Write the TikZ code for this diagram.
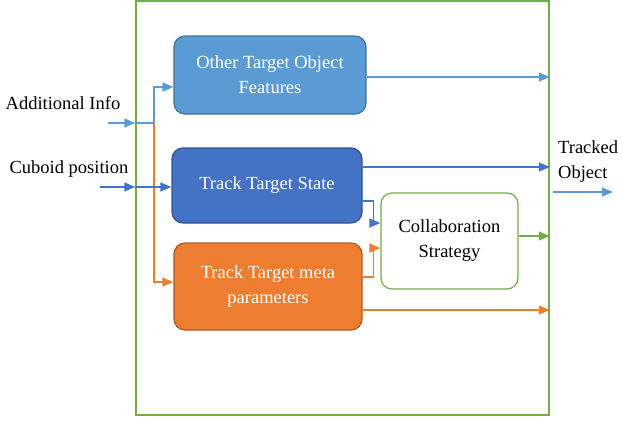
\documentclass[tikz,border=0pt]{standalone}
\usepackage{fontspec}
\setmainfont{Liberation Serif}
\usetikzlibrary{arrows.meta,calc}
\definecolor{lblue}{HTML}{5B9BD5}
\definecolor{lbluedk}{HTML}{41719C}
\definecolor{dblue}{HTML}{4472C4}
\definecolor{dbluedk}{HTML}{2F528F}
\definecolor{orng}{HTML}{ED7D31}
\definecolor{orngdk}{HTML}{AE5A21}
\definecolor{grn}{HTML}{70AD47}
\tikzset{
  box/.style={rectangle, rounded corners=11pt, line width=1.2pt, align=center, text=white,
    font=\fontsize{18.5}{25}\selectfont, inner sep=0pt},
  conn/.style={line width=1.3pt, -{Triangle[length=11pt,width=9pt]}},
  plain/.style={line width=1.3pt},
  lbl/.style={font=\fontsize{18.5}{25}\selectfont, align=left, inner sep=0pt}
}
\begin{document}
\begin{tikzpicture}[x=1pt,y=-1pt]
\useasboundingbox (0,0) rectangle (622,421);
% frame
\node[draw=grn, line width=1.5pt, minimum width=413pt, minimum height=414pt, inner sep=0pt] (frame) at (342.5,208) {};
% boxes
\node[box, fill=lblue, draw=lbluedk, minimum width=192pt, minimum height=78pt] (other) at (270,75) {Other Target Object\\Features};
\node[box, fill=dblue, draw=dbluedk, minimum width=190pt, minimum height=75pt] (state) at (267,185.5) {Track Target State};
\node[box, fill=orng, draw=orngdk, minimum width=188pt, minimum height=87pt] (meta) at (268,286.5) {Track Target meta\\parameters};
\node[box, fill=white, draw=grn, text=black, minimum width=137pt, minimum height=96pt] (collab) at (449.5,241) {Collaboration\\Strategy};
% labels
\node[lbl] (ai) at (63,103) {Additional Info};
\node[lbl] (cp) at (69,169) {Cuboid position};
\node[lbl, anchor=west] (to) at (558,162) {Tracked\\Object};
% left inputs
\coordinate (aistart) at (108,123);
\coordinate (j) at (154,123);
\coordinate (cpstart) at (100,187);
\coordinate (aiin) at (aistart -| frame.west);
\coordinate (cpin) at (cpstart -| frame.west);
\draw[conn, draw=lblue] (aistart) -- (aiin);
\draw[conn, draw=orng] (j) |- ([yshift=4.5pt]meta.west);
\draw[plain, draw=lblue] (aiin) -- (j);
\draw[conn, draw=lblue] (j) |- ([yshift=-12pt]other.west);
\draw[conn, draw=dblue] (cpstart) -- (cpin);
\draw[conn, draw=dblue] (cpin) -- ([yshift=-1.5pt]state.west);
% outputs to frame
\draw[conn, draw=lblue] ([yshift=-2pt]other.east) -- ([yshift=-2pt]other.east -| frame.east);
\draw[conn, draw=dblue] ([yshift=18.5pt]state.east) -- ([yshift=18.5pt]state.east -| frame.east);
\draw[conn, draw=grn] ([yshift=5pt]collab.east) -- ([yshift=5pt]collab.east -| frame.east);
\draw[conn, draw=orng] ([yshift=-23.5pt]meta.east) -- ([yshift=-23.5pt]meta.east -| frame.east);
% to collaboration
\coordinate (sa) at ([yshift=-15.5pt]state.east);
\coordinate (ma) at ([yshift=9.5pt]meta.east);
\coordinate (ca) at ([yshift=18pt]collab.west);
\coordinate (cb) at ([yshift=-7pt]collab.west);
\coordinate (sb) at ([xshift=11pt]sa);
\coordinate (mb) at ([xshift=11pt]ma);
\draw[conn, draw=dblue] (sa) -- (sb) |- (ca);
\draw[conn, draw=orng] (ma) -- (mb) |- (cb);
% tracked object output
\coordinate (outa) at (553,192);
\coordinate (outb) at (613,192);
\draw[conn, draw=lblue] (outa) -- (outb);
\end{tikzpicture}
\end{document}
